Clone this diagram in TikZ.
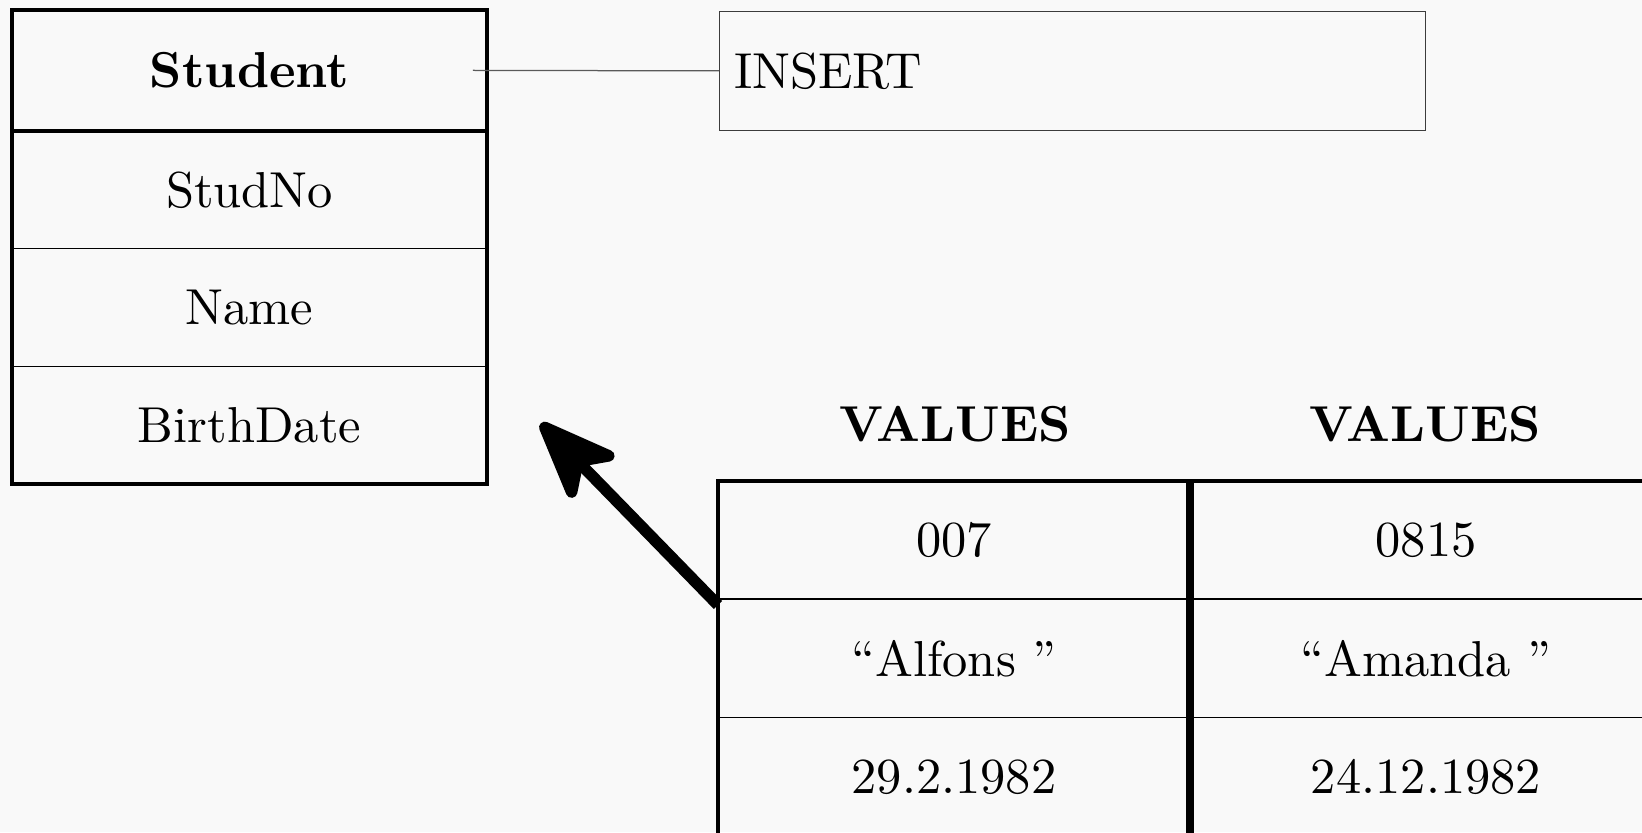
\documentclass[tikz,border=0pt]{standalone}
\usepackage{fontspec}
\usetikzlibrary{arrows.meta,calc}
\definecolor{paper}{RGB}{249,249,249}
\definecolor{linkgray}{RGB}{90,90,90}
\definecolor{boxgray}{RGB}{60,60,60}
\begin{document}
\begin{tikzpicture}[x=0.2pt,y=-0.2pt,
  font=\fontsize{10.1}{12}\selectfont,
  entity/.style={draw, line width=0.25pt, anchor=north west, inner sep=0pt, outer sep=0pt,
    minimum width=94.9pt, minimum height=23.54pt},
  valcell/.style={draw, line width=0.25pt, anchor=north west, inner sep=0pt, outer sep=0pt,
    minimum width=94.4pt, minimum height=23.7pt},
  heavy/.style={line width=0.8pt},
  divider/.style={line width=1.5pt},
  link/.style={draw=linkgray, line width=0.25pt},
  flow/.style={line width=2.3pt, -{Stealth[length=19pt, width=15pt, inset=5pt, round]}}
]
\useasboundingbox (0,0) rectangle (1642,832);
\clip (0,0) rectangle (1642,832);
\fill[paper] (0,0) rectangle (1642,832);

% Student relation schema
\node[entity, minimum height=24.26pt, font=\fontsize{10.1}{12}\selectfont\bfseries] (stud) at (12.3,9.7) {Student};
\node[entity] (studno) at (stud.south west) {StudNo};
\node[entity] (name) at (studno.south west) {Name};
\node[entity] (birth) at (name.south west) {BirthDate};
\draw[heavy] (stud.north west) rectangle (birth.south east);
\draw[heavy] (stud.south west) -- (stud.south east);

% INSERT statement box
\node[draw=boxgray, line width=0.2pt, anchor=north west, inner xsep=3pt, inner ysep=0pt, outer sep=0pt,
  minimum width=141.2pt, minimum height=23.66pt, text width=135.2pt, align=left]
  (insert) at (719,11.7) {INSERT};
\draw[link] ($(stud.east)+(-14,0)$) -- (insert.west);

% VALUES tuples
\node[font=\fontsize{10.1}{12}\selectfont\bfseries] (h1) at (955,424) {VALUES};
\node[font=\fontsize{10.1}{12}\selectfont\bfseries] (h2) at (1425,424) {VALUES};

\node[valcell] (a1) at (718,480.5) {007};
\node[valcell] (a2) at (a1.south west) {“Alfons ”};
\node[valcell] (a3) at (a2.south west) {29.2.1982};
\node[valcell] (b1) at (a1.north east) {0815};
\node[valcell] (b2) at (b1.south west) {“Amanda ”};
\node[valcell] (b3) at (b2.south west) {24.12.1982};
\draw[heavy] (a3.south west) -- (a1.north west) -- (b1.north east);
\draw[divider] (a1.north east) -- (a3.south east);

% insertion arrow
\coordinate (tip) at ($(birth.east)+(54,-2)$);
\draw[flow] ($(a1.south west)+(0,6)$) -- (tip);
\end{tikzpicture}
\end{document}
